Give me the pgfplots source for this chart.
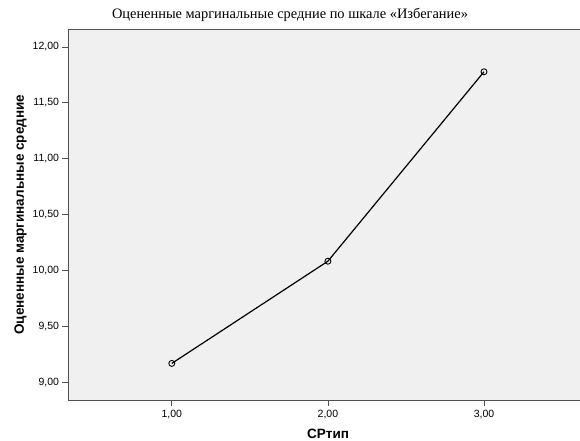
\documentclass[border=0pt]{standalone}
\usepackage{pgfplots}
\pgfplotsset{compat=1.18}
\usepackage{fontspec}
\setmainfont{Liberation Serif}
\setsansfont{Liberation Sans}
\definecolor{plotbg}{HTML}{F0F0F0}
\definecolor{axisgray}{HTML}{505050}
\begin{document}
\begin{tikzpicture}
\path[use as bounding box] (-68pt,-40.3pt) rectangle (512pt,400.7pt);
\begin{axis}[
  at={(0,0)}, anchor=origin,
  scale only axis,
  width=512pt, height=371.7pt,
  xmin=0.335, xmax=3.615,
  ymin=8.84, ymax=12.16,
  axis background/.style={fill=plotbg},
  axis x line*=bottom, axis y line*=left,
  axis line style={axisgray, line width=0.9pt, -},
  xtick={1,2,3}, ytick={9,9.5,...,12},
  tick align=outside, major tick length=5.5pt,
  tick style={axisgray, line width=0.8pt},
  minor tick num=0,
  /pgf/number format/.cd, fixed, fixed zerofill, precision=2, use comma, assume math mode=true,
  /pgfplots/.cd,
  ticklabel style={font=\sffamily\fontsize{10.5}{11}\selectfont},
  xlabel={СРтип}, ylabel={Оцененные маргинальные средние},
  label style={font=\sffamily\bfseries\fontsize{13.5}{14}\selectfont, inner sep=1pt},
  xlabel style={at={(axis description cs:0.508,-0.089)}, anchor=center},
  ylabel style={at={(axis description cs:-0.0928,0.5)}, anchor=center},
  clip=false,
]
\addplot[black, line width=1.2pt, mark=o, mark size=3pt, mark options={line width=0.9pt}]
  coordinates {(1,9.173) (2,10.086) (3,11.778)};
\draw[axisgray, line width=0.9pt] (rel axis cs:0,1) -- (rel axis cs:1,1);
\end{axis}
\node[font=\fontsize{14.4}{15}\selectfont] at (222pt,385.7pt) {Оцененные маргинальные средние по шкале «Избегание»};
\end{tikzpicture}
\end{document}
